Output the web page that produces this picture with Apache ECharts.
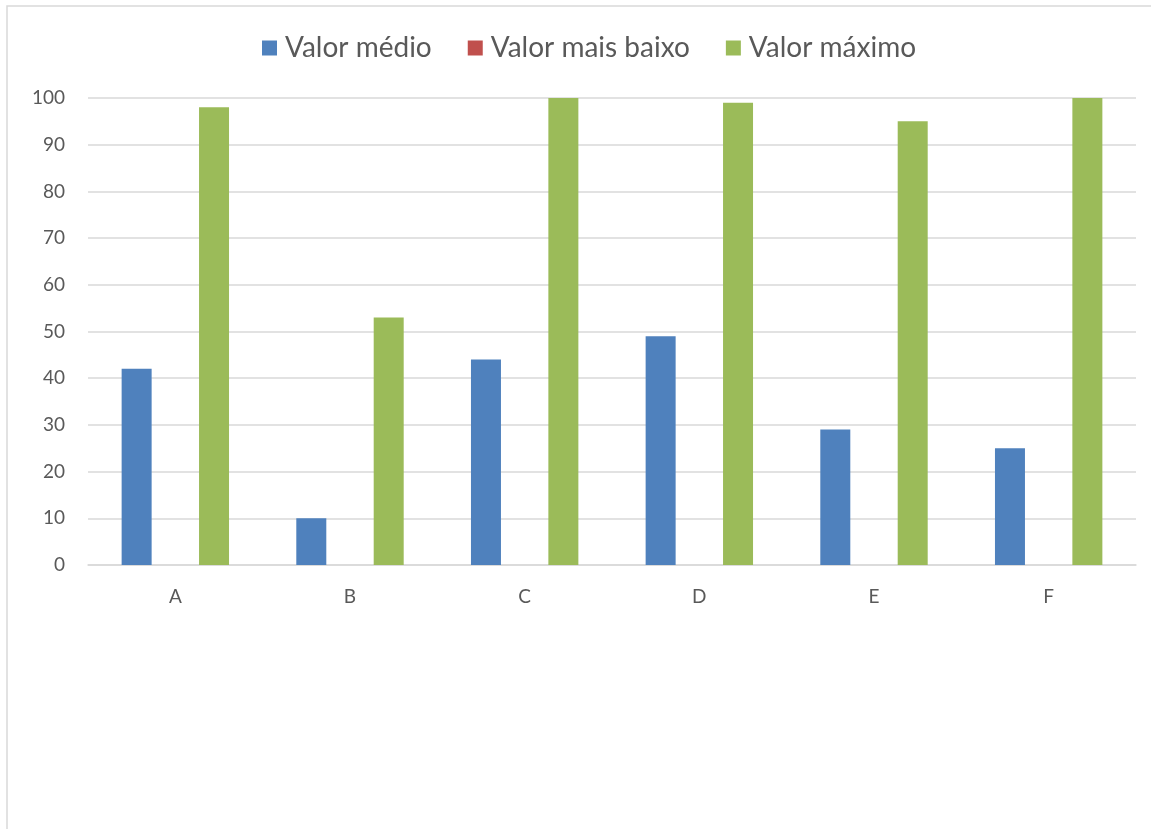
<!DOCTYPE html>
<html>
<head>
<meta charset="utf-8">
<script src="https://cdn.jsdelivr.net/npm/echarts@6/dist/echarts.min.js"></script>
<style>html,body{margin:0;padding:0;background:#fff;}#c{width:1151px;height:829px;}</style>
</head>
<body>
<div id="c"></div>
<script>
const categories = ['A', 'B', 'C', 'D', 'E', 'F'];
const seriesNames = ['Valor médio', 'Valor mais baixo', 'Valor máximo'];
const valorMedio = [42, 10, 44, 49, 29, 25];
const valorMaisBaixo = [0, 0, 0, 0, 0, 0];
const valorMaximo = [98, 53, 100, 99, 95, 100];
const yTicks = [0, 10, 20, 30, 40, 50, 60, 70, 80, 90, 100];

const colors = ['#4F81BD', '#C0504D', '#9BBB59'];
const font = 'Lato, "Open Sans", sans-serif';
const chart = echarts.init(document.getElementById('c'));
const data = [valorMedio, valorMaisBaixo, valorMaximo];
chart.setOption({
  animation: false,
  color: colors,
  graphic: [{
    type: 'rect', shape: {x: 7, y: 6, width: 1300, height: 1000},
    style: {fill: 'none', stroke: '#d9d9d9', lineWidth: 1.5}, silent: true
  }],
  legend: {
    top: 34, left: 262, padding: 0,
    itemWidth: 15, itemHeight: 15, itemGap: 36,
    icon: 'rect',
    textStyle: {fontFamily: font, fontSize: 28, color: '#595959', padding: [0, 0, 0, 3]},
    data: seriesNames
  },
  grid: {left: 88, right: 15, top: 98, bottom: 264, containLabel: false},
  xAxis: {
    type: 'category', data: categories,
    axisLine: {lineStyle: {color: '#d9d9d9', width: 1.5}},
    axisTick: {show: false},
    axisLabel: {fontFamily: font, fontSize: 19, color: '#595959', margin: 22}
  },
  yAxis: {
    type: 'value', min: yTicks[0], max: yTicks[yTicks.length - 1], interval: 10,
    axisLine: {show: false}, axisTick: {show: false},
    axisLabel: {fontFamily: font, fontSize: 19, color: '#595959', margin: 23},
    splitLine: {lineStyle: {color: '#d9d9d9', width: 1.5}}
  },
  series: seriesNames.map((n, i) => ({
    name: n, type: 'bar', data: data[i], barWidth: 30, barGap: '29%'
  }))
});
</script>
</body>
</html>
